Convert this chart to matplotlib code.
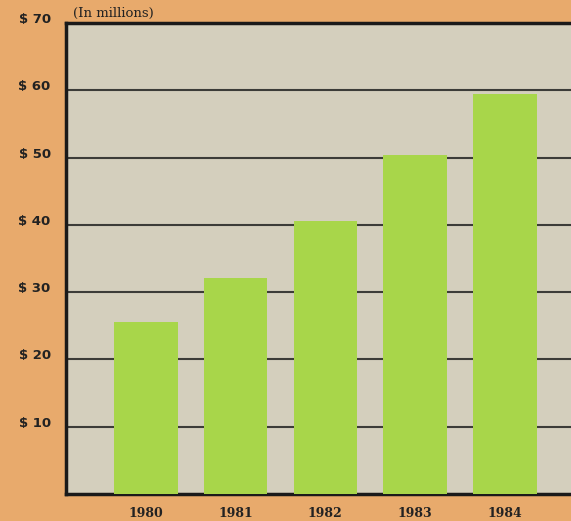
import matplotlib
matplotlib.use("Agg")
import matplotlib.pyplot as plt

# Data (in millions of dollars)
years = ['1980', '1981', '1982', '1983', '1984']
values = [25.6, 32.1, 40.6, 50.4, 59.4]
y_ticks = [10, 20, 30, 40, 50, 60, 70]
y_labels = ['$ 10', '$ 20', '$ 30', '$ 40', '$ 50', '$ 60', '$ 70']

page_color = '#e8aa6c'
panel_color = '#d4cfbd'
bar_color = '#a8d64a'

fig = plt.figure(figsize=(5.71, 5.21), dpi=100, facecolor=page_color)
# axes runs off the right edge like the original clipping
ax = fig.add_axes([0.1156, 0.0518, 0.91, 0.904])
ax.set_facecolor(panel_color)

x = list(range(len(years)))
ax.bar(x, values, width=0.71, color=bar_color, zorder=3)

ax.set_xlim(-0.89, 4.9)
ax.set_ylim(0, 70)

# horizontal rules behind the bars
for t in y_ticks[:-1]:
    ax.axhline(t, color='#3c3c38', lw=1.5, zorder=1)

for side in ['left', 'bottom', 'top']:
    ax.spines[side].set_linewidth(2.5)
    ax.spines[side].set_color('#1a1a1a')
ax.spines['right'].set_visible(False)

ax.set_xticks(x)
ax.set_xticklabels(years, fontfamily='DejaVu Serif', fontweight='bold',
                   fontsize=9, color='#222222')
ax.tick_params(axis='x', length=0, pad=9)

ax.set_yticks(y_ticks)
ax.set_yticklabels(y_labels, fontfamily='DejaVu Sans', fontweight='bold',
                   fontsize=9.5, color='#222222')
ax.tick_params(axis='y', length=0, pad=11)
for lbl in ax.get_yticklabels():
    lbl.set_verticalalignment('baseline')

fig.text(0.128, 0.975, '(In millions)', fontfamily='DejaVu Serif',
         fontsize=9.5, color='#222222', ha='left', va='center')

fig.savefig('out.png', dpi=100, facecolor=page_color)
